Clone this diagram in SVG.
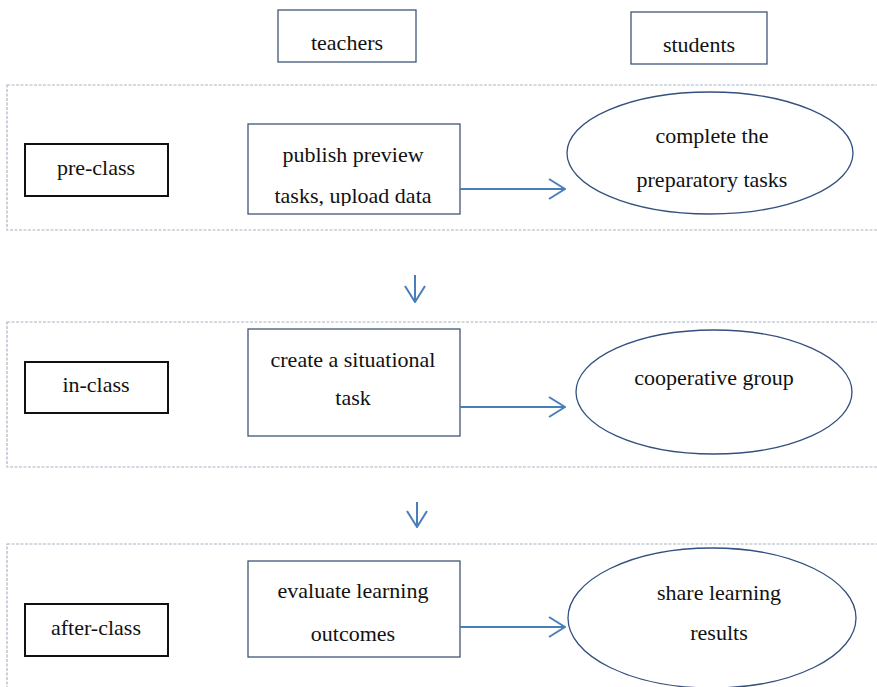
<svg xmlns="http://www.w3.org/2000/svg" width="877" height="687" viewBox="0 0 877 687">
<style>
text{font-family:'Liberation Serif','Times New Roman',serif;font-size:22px;fill:#111;text-anchor:middle}
.sec{fill:none;stroke:#a9b5c6;stroke-width:1.2;stroke-dasharray:3 1.5}
.lab{fill:#fff;stroke:#111;stroke-width:2}
.box{fill:#fff;stroke:#3f5676;stroke-width:1.3}
.ell{fill:#fff;stroke:#34507e;stroke-width:1.3}
.con{fill:none;stroke:#4a7ebb;stroke-width:2}
</style>
<defs>
<marker id="ah" viewBox="0 0 18 22" refX="17" refY="11" markerWidth="18" markerHeight="22" markerUnits="userSpaceOnUse" orient="auto">
<path d="M1,1 L17,11 L1,21" fill="none" stroke="#4a7ebb" stroke-width="2"/>
</marker>
<clipPath id="c1"><rect x="248" y="124" width="212" height="82"/></clipPath>
</defs>
<g id="sections">
<rect class="sec" x="7" y="85" width="880" height="145"/>
<rect class="sec" x="7" y="322" width="880" height="145"/>
<rect class="sec" x="7" y="544" width="880" height="160"/>
</g>
<g id="teachers"><rect class="box" x="278" y="10" width="138" height="52"/><text x="347" y="50">teachers</text></g>
<g id="students"><rect class="box" x="631" y="12" width="136" height="52"/><text x="699" y="52">students</text></g>
<g id="pre-class"><rect class="lab" x="25" y="144" width="143" height="52"/><text x="96" y="175">pre-class</text></g>
<g id="in-class"><rect class="lab" x="25" y="362" width="143" height="51"/><text x="96" y="392">in-class</text></g>
<g id="after-class"><rect class="lab" x="25" y="604" width="143" height="52"/><text x="96" y="635">after-class</text></g>
<g id="publish"><rect class="box" x="248" y="124" width="212" height="90"/><g clip-path="url(#c1)"><text x="353" y="162">publish preview</text><text x="353" y="203">tasks, upload data</text></g></g>
<g id="create"><rect class="box" x="248" y="329" width="212" height="107"/><text x="353" y="367">create a situational</text><text x="353" y="405">task</text></g>
<g id="evaluate"><rect class="box" x="248" y="561" width="212" height="96"/><text x="353" y="598">evaluate learning</text><text x="353" y="641">outcomes</text></g>
<g id="complete"><ellipse class="ell" cx="710" cy="153" rx="143" ry="61"/><text x="712" y="143">complete the</text><text x="712" y="187">preparatory tasks</text></g>
<g id="cooperative"><ellipse class="ell" cx="714" cy="392" rx="138" ry="62"/><text x="714" y="385">cooperative group</text></g>
<g id="share"><ellipse class="ell" cx="712" cy="618" rx="144" ry="70"/><text x="719" y="600">share learning</text><text x="719" y="640">results</text></g>
<g id="connectors">
<line class="con" x1="460" y1="189" x2="565" y2="189" marker-end="url(#ah)"/>
<line class="con" x1="460" y1="407" x2="565" y2="407" marker-end="url(#ah)"/>
<line class="con" x1="460" y1="627" x2="565" y2="627" marker-end="url(#ah)"/>
<line class="con" x1="415" y1="275" x2="415" y2="302" marker-end="url(#ah)"/>
<line class="con" x1="417" y1="502" x2="417" y2="527" marker-end="url(#ah)"/>
</g>
</svg>
